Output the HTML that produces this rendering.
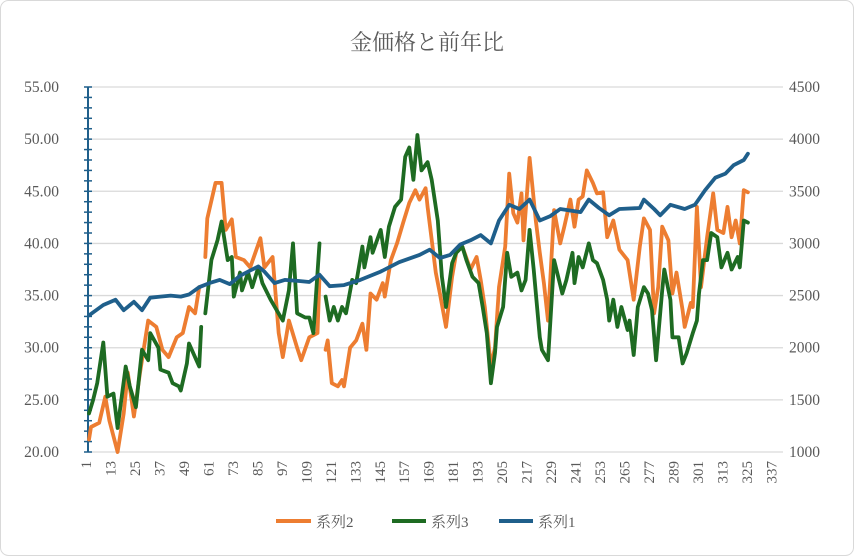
<!DOCTYPE html>
<html><head><meta charset="utf-8"><style>
body{margin:0;background:#fff;}
#wrap{position:relative;width:854px;height:556px;overflow:hidden;}
svg text{font-family:"Liberation Serif","Noto Serif CJK SC","Noto Sans CJK JP",serif;fill:#595959;}
</style></head><body>
<div id="wrap">
<svg id="chart" width="854" height="556">
<rect x="0.5" y="0.5" width="853" height="555" rx="8" fill="#fff" stroke="#d9d9d9"/>
<text x="427" y="50" text-anchor="middle" font-size="22">金価格と前年比</text>
<g id="grid"></g><g id="axes"></g><g id="series"></g>
<g id="legend">
<line x1="276" y1="521" x2="311" y2="521" stroke="#ed7d31" stroke-width="4"/>
<text x="316" y="527" font-size="15">系列2</text>
<line x1="392" y1="521" x2="426" y2="521" stroke="#1e6b22" stroke-width="4"/>
<text x="431" y="527" font-size="15">系列3</text>
<line x1="499" y1="521" x2="533" y2="521" stroke="#1f5f8b" stroke-width="4"/>
<text x="538" y="527" font-size="15">系列1</text>
</g>
</svg></div>
<script>
const leftTicks=[20,25,30,35,40,45,50,55];
const rightTicks=[1000,1500,2000,2500,3000,3500,4000,4500];
const xLabels=[1,13,25,37,49,61,73,85,97,109,121,133,145,157,169,181,193,205,217,229,241,253,265,277,289,301,313,325,337];
const s1Cats=[1,8,14,18,23,27,31,36,41,46,50,55,60,65,70,75,80,84,87,92,97,104,109,114,119,126,134,144,153,163,168,173,178,183,188,193,198,202,207,212,217,222,227,232,242,246,251,256,261,271,273,278,281,286,293,298,303,308,313,317,322,324];
const s1Vals=[2310,2410,2460,2360,2440,2360,2480,2490,2500,2490,2510,2580,2620,2650,2610,2690,2740,2780,2730,2620,2650,2640,2630,2700,2590,2600,2650,2730,2820,2890,2940,2860,2890,2990,3030,3080,3000,3220,3370,3330,3420,3220,3260,3330,3300,3420,3340,3270,3330,3340,3420,3330,3270,3370,3330,3370,3510,3630,3670,3750,3800,3860];
const s2Cats=[1,2,6,9,11,15,18,20,23,26,30,34,37,40,44,47,50,53,55,56,58,59,63,66,68,71,73,77,80,85,87,91,94,96,99,103,105,109,113,114,116,117,118,120,123,125,126,129,132,135,137,139,142,145,146,149,152,155,158,161,163,166,167,171,173,176,179,181,184,188,191,193,195,198,200,202,205,207,209,211,213,214,217,220,222,224,226,229,232,234,237,239,241,243,245,248,250,253,255,258,261,265,268,271,273,276,278,280,282,285,287,289,292,293,296,297,299,301,304,307,309,312,314,316,318,320,322,324];
const s2Vals=[21.2,22.4,22.8,25.3,23,20,23.7,27.6,23.4,27.6,32.6,32,29.8,29.1,31,31.4,33.9,33.3,35.8,null,38.7,42.4,45.8,45.8,41.3,42.3,38.7,38.4,37.7,40.5,37.7,38.7,31.4,29.1,32.6,30,28.8,31,31.4,36.8,null,29.8,30.7,26.6,26.3,26.9,26.3,30,30.7,32.3,29.8,35.2,34.6,36.2,34.9,38.4,40,42,43.9,45.1,44.2,45.3,43.5,37.2,35.2,32,36.8,39.1,39.7,37.5,38.7,36.5,33.9,28.2,30,35.8,39.7,46.7,42.9,42,44.8,40.3,48.2,42.2,39.1,36.2,32.6,43.2,40,41.6,44.2,41.6,44.2,44.5,47,45.8,44.8,44.9,40.6,42.2,39.4,38.4,34.6,39.7,42.4,41.3,33.3,35.8,41.6,40.3,35.2,37.2,33.6,32,34.3,33.9,43.5,35.8,40.6,44.8,41.3,41,43.5,40.6,42.2,40,45.1,44.9];
const s3Cats=[1,3,5,8,10,13,15,19,21,24,27,30,31,35,36,40,42,45,46,49,50,55,56,57,58,61,64,66,69,71,72,75,76,79,81,84,86,90,93,96,99,101,103,107,109,111,114,116,117,119,121,123,125,127,130,132,135,136,139,140,144,146,148,151,154,156,158,160,162,164,167,169,172,174,176,179,181,184,186,189,192,194,196,198,200,201,204,206,208,211,213,215,217,219,222,223,226,229,233,235,238,239,241,243,246,248,250,253,255,256,258,260,262,265,266,268,270,273,275,277,279,282,283,286,287,290,292,294,297,299,300,302,304,306,309,311,314,316,319,320,322,324];
const s3Vals=[23.7,25,26.6,30.5,25.3,25.6,22.3,28.2,26.3,24.3,29.8,28.8,31.4,30,27.9,27.6,26.6,26.3,25.9,28.5,30.4,28.2,32,null,33.3,38.4,40.3,42.1,38.4,38.7,34.9,37.2,35.5,37.2,35.8,37.7,36.2,34.6,33.6,32.6,35.5,40,33.3,32.9,32.9,31.4,40,null,34.9,32.6,33.9,32.6,33.9,33.3,36.5,36.2,39.7,37.7,40.6,39.1,41.3,38.7,41.6,43.5,44.2,48.3,49.2,46.1,50.4,47,47.8,46.1,42.2,36.8,33.9,38.1,39.1,39.7,38.4,36.8,36.2,33.9,31.4,26.6,29.5,32,33.9,39.1,36.8,37.2,35.5,36.5,41.3,37.5,31,29.8,28.8,38.4,35.2,36.5,39.1,36.2,38.7,37.7,40,38.4,38.1,36.5,34.6,32.6,34.6,32,33.9,31.7,32.6,29.3,33.9,35.8,35.2,33.6,28.8,35.5,37.5,34.6,31,31,28.5,29.5,31.4,32.6,35.2,38.4,38.4,41,40.6,37.7,39.1,37.5,38.7,37.7,42.2,42];

const NS='http://www.w3.org/2000/svg';
const PL=88,PR=783,PT=87,PB=452;
function xPos(c){return 89+(c-1)*2.04;}
function yL(v){return PB-(v-20)/35*(PB-PT);}
function yR(v){return PB-(v-1000)/3500*(PB-PT);}
function mk(tag,attrs,parent){const e=document.createElementNS(NS,tag);for(const k in attrs)e.setAttribute(k,attrs[k]);parent.appendChild(e);return e;}
const grid=document.getElementById('grid'),axes=document.getElementById('axes'),ser=document.getElementById('series');
leftTicks.forEach((v,i)=>{
  if(i>0){const g=mk('line',{x1:PL,x2:PR,y1:yL(v),y2:yL(v),stroke:'#d9d9d9','stroke-width':1.3},grid);
  
  }
  const t=mk('text',{x:59,y:yL(v)+5,'text-anchor':'end','font-size':15.5},axes);t.textContent=v.toFixed(2);
  
  
});
rightTicks.forEach(v=>{
  const t=mk('text',{x:789,y:yR(v)+5,'font-size':15.5},axes);t.textContent=v;
  
  
});
const xa=mk('line',{x1:PL,x2:PR,y1:PB,y2:PB,stroke:'#d9d9d9','stroke-width':1.3},axes);


const ya=mk('line',{x1:PL,x2:PL,y1:PT,y2:PB,stroke:'#1f5f8b','stroke-width':2},axes);


for(let v=20;v<=55;v++){
  const tk=mk('line',{x1:PL-4,x2:PL+4,y1:yL(v),y2:yL(v),stroke:'#1f5f8b','stroke-width':1.5},axes);
  
  
}
xLabels.forEach(c=>{
  const x=xPos(c)-3;
  const t=mk('text',{x:0,y:0,'font-size':15,'text-anchor':'end',transform:`translate(${x+5},461) rotate(-90)`},axes);
  t.textContent=c;
  
  
});
function drawLine(cats,vals,yf,color,name){
  let d='',pen=false;
  cats.forEach((c,i)=>{const v=vals[i];if(v===null){pen=false;return;}
    d+=(pen?'L':'M')+xPos(c).toFixed(1)+','+yf(v).toFixed(1);pen=true;});
  const p=mk('path',{d:d,fill:'none',stroke:color,'stroke-width':3.8,'stroke-linejoin':'round','stroke-linecap':'round'},ser);
  
  
}
drawLine(s2Cats,s2Vals,yL,'#ed7d31','series2-line');
drawLine(s3Cats,s3Vals,yL,'#1e6b22','series3-line');
drawLine(s1Cats,s1Vals,yR,'#1f5f8b','series1-line');
</script>
</body></html>
